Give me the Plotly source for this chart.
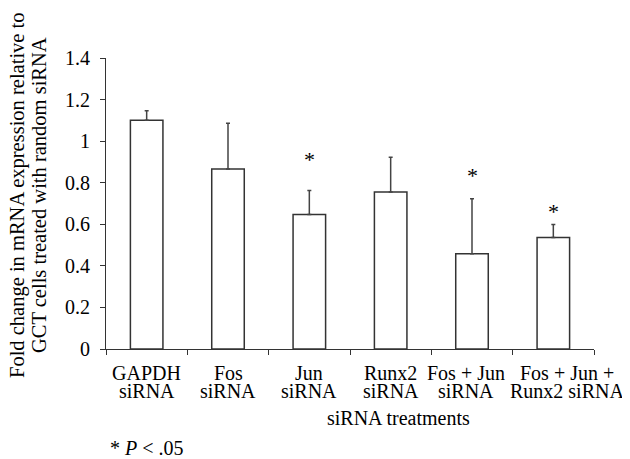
import plotly.graph_objects as go

# ---- data ----
categories_line1 = ["GAPDH", "Fos", "Jun", "Runx2", "Fos + Jun", "Fos + Jun +"]
categories_line2 = ["siRNA", "siRNA", "siRNA", "siRNA", "siRNA", "Runx2 siRNA"]
fold_change = [1.10, 0.866, 0.647, 0.755, 0.458, 0.536]
error_up = [0.046, 0.220, 0.116, 0.167, 0.265, 0.063]
significant = [False, False, True, False, True, True]
star_y = [None, None, 0.935, None, 0.858, 0.686]
y_ticks = [0, 0.2, 0.4, 0.6, 0.8, 1.0, 1.2, 1.4]

FONT = "Liberation Serif, Times New Roman, Times, serif"
FS = 20
x_idx = list(range(len(fold_change)))
label_xshift = [0, 0, 0, 0, -6, 14]

# the page body has an 8px default margin; figure is sized to compensate
fig = go.Figure()
fig.add_trace(go.Bar(
    x=x_idx, y=fold_change, width=0.4,
    marker=dict(color="white", line=dict(color="#333333", width=1.5)),
    error_y=dict(type="data", symmetric=False, array=error_up,
                 arrayminus=[0] * len(error_up),
                 color="#444444", thickness=1.5, width=2),
    showlegend=False,
))

annotations = []
for i in x_idx:
    annotations.append(dict(x=i, xref="x", y=0, yref="paper", text=categories_line1[i],
                            showarrow=False, xanchor="center", yanchor="middle",
                            yshift=-23.5, xshift=label_xshift[i],
                            font=dict(family=FONT, size=FS, color="black")))
    annotations.append(dict(x=i, xref="x", y=0, yref="paper", text=categories_line2[i],
                            showarrow=False, xanchor="center", yanchor="middle",
                            yshift=-41.6, xshift=label_xshift[i],
                            font=dict(family=FONT, size=FS, color="black")))
    if significant[i]:
        annotations.append(dict(x=i, xref="x", y=star_y[i], yref="y", text="*",
                                showarrow=False, xanchor="center", yanchor="middle",
                                yshift=-5, font=dict(family=FONT, size=22, color="black")))

plot_left, plot_right = 106, 586
# x-axis title
annotations.append(dict(x=(394 - plot_left) / (plot_right - plot_left), xref="paper",
                        y=0, yref="paper", text="siRNA treatments",
                        showarrow=False, xanchor="center", yanchor="middle", yshift=-69.4,
                        font=dict(family=FONT, size=FS, color="black")))
# footnote
annotations.append(dict(x=0, xref="paper", y=0, yref="paper",
                        text="* <i>P</i> &lt; .05",
                        showarrow=False, xanchor="left", yanchor="middle",
                        xshift=2, yshift=-98.7,
                        font=dict(family=FONT, size=FS, color="black")))
# y-axis title (two lines)
annotations.append(dict(x=0, xref="paper", y=0, yref="paper",
                        text="Fold change in mRNA expression relative to",
                        textangle=-90, showarrow=False, xanchor="center", yanchor="middle",
                        xshift=-89, yshift=154,
                        font=dict(family=FONT, size=20.5, color="black")))
annotations.append(dict(x=0, xref="paper", y=0, yref="paper",
                        text="GCT cells treated with random siRNA",
                        textangle=-90, showarrow=False, xanchor="center", yanchor="middle",
                        xshift=-67, yshift=154,
                        font=dict(family=FONT, size=20.5, color="black")))

fig.update_layout(
    width=622, height=451,
    margin=dict(l=98, r=36, t=50, b=110, pad=0),
    paper_bgcolor="white", plot_bgcolor="white",
    font=dict(family=FONT, size=FS, color="black"),
    xaxis=dict(range=[-0.5, 5.5], showgrid=False, zeroline=False,
               showline=True, linecolor="#333333", linewidth=1,
               tickmode="array", tickvals=[i - 0.5 for i in range(len(fold_change) + 1)],
               ticks="outside", ticklen=5, tickcolor="#333333", tickwidth=1,
               showticklabels=False),
    yaxis=dict(range=[0, 1.4], showgrid=False, zeroline=False,
               showline=True, linecolor="#333333", linewidth=1,
               tickmode="array", tickvals=y_ticks,
               ticktext=[f"{v:g}" for v in y_ticks],
               ticks="outside", ticklen=5, tickcolor="#333333", tickwidth=1,
               ticklabelstandoff=6,
               tickfont=dict(family=FONT, size=FS, color="black")),
    annotations=annotations,
)

fig.write_html("out.html")
